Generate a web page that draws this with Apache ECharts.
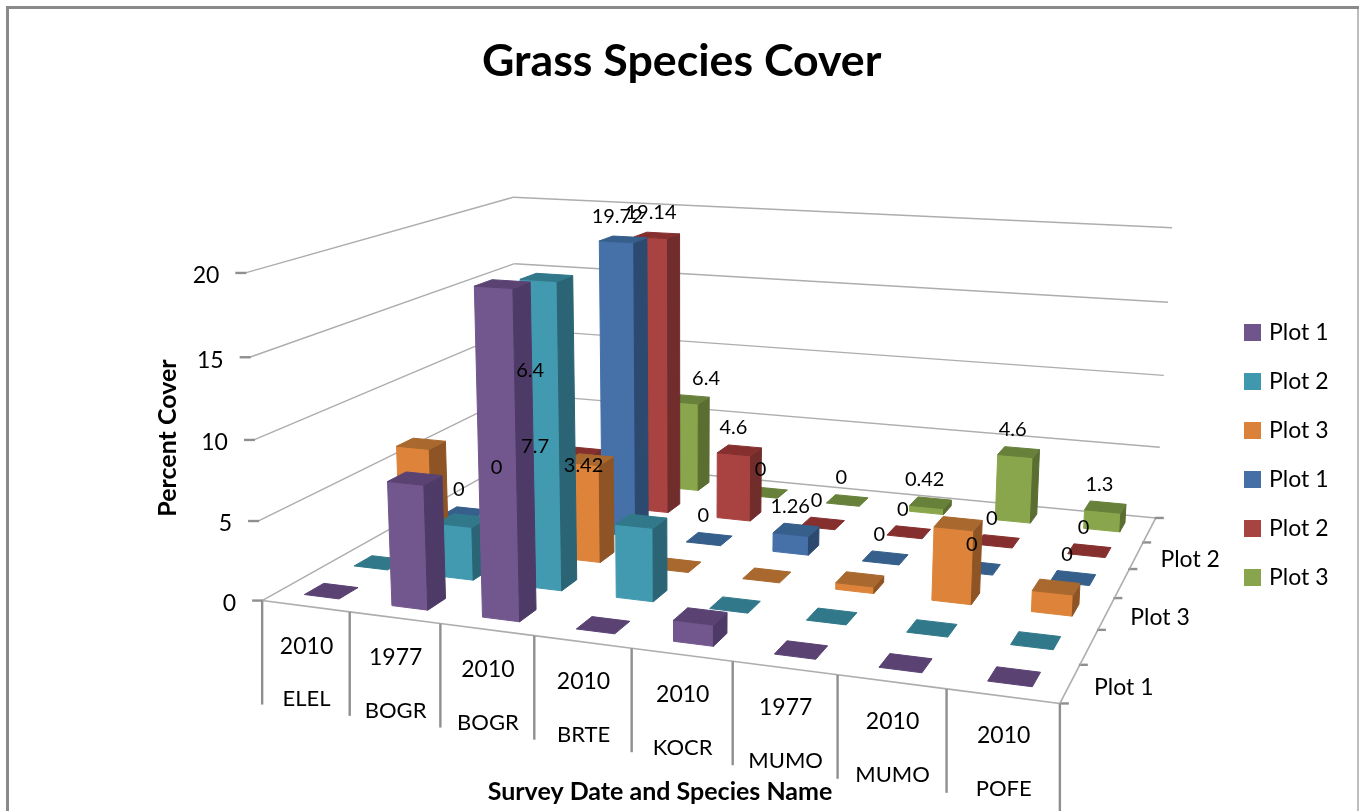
<!DOCTYPE html>
<html><head><meta charset="utf-8">
<style>html,body{margin:0;padding:0;background:#fff;overflow:hidden}#c{width:1359px;height:811px}</style>
<script src="https://cdn.jsdelivr.net/npm/echarts@6/dist/echarts.min.js"></script>
</head><body><div id="c"></div>
<script>
const species = ['ELEL','BOGR','BOGR','BRTE','KOCR','MUMO','MUMO','POFE'];
const years = ['2010','1977','2010','2010','2010','1977','2010','2010'];
const valueTicks = [0,5,10,15,20];
const depthLabels = ['Plot 1','Plot 3','Plot 2'];
const plot1 = [0,7.7,19.72,0,1.26,0,0,0];
const plot2 = [0,3.42,19.14,4.6,0,0,0,0];
const plot3 = [6.4,0,6.4,0,0,0.42,4.6,1.3];
const seriesNames = ['Plot 1','Plot 2','Plot 3','Plot 1 (rear)','Plot 2 (rear)','Plot 3 (rear)'];
const seriesValues = [plot1,plot2,plot3,plot1,plot2,plot3];
const colors = [
 {front:'#72578e',side:'#4d3a66',top:'#5a4373',legend:'#70558c'},
 {front:'#419ab0',side:'#2b6474',top:'#31798a',legend:'#3f98ae'},
 {front:'#dd843a',side:'#8e5425',top:'#a8682e',legend:'#db813a'},
 {front:'#4570a8',side:'#2c4a70',top:'#365f8c',legend:'#4470a6'},
 {front:'#a94341',side:'#702d2c',top:'#85302e',legend:'#a74340'},
 {front:'#8aa64c',side:'#5a6e32',top:'#67803a',legend:'#88a44d'}];

// camera calibration: [across, depth, height (all 0..1), screen x, screen y]
const anchors = [
 [0,0,0,263,600],[1/8,0,0,348,610],[2/8,0,0,440,622],[3/8,0,0,534,635],[4/8,0,0,633,648],[5/8,0,0,732,663],[6/8,0,0,837,677],[7/8,0,0,945,690],[1,0,0,1060,704],
 [1,1/6,0,1080,666],[1,2/6,0,1100,629],[1,3/6,0,1115,596],[1,4/6,0,1129,568],[1,5/6,0,1143,542],[1,1,0,1155,517],
 [0,0,.25,260,521],[0,0,.5,254,439],[0,0,.75,249,358],[0,0,1,245,274],
 [1,1,.25,1160,446],[1,1,.5,1164,375],[1,1,.75,1168,303],[1,1,1,1172,230],
 [0,1,0,518,462],[0,1,.25,517,394],[0,1,.5,516,328],[0,1,.75,515,262],[0,1,1,513,196]];
function solveCamera(){
  const n=11,A=Array.from({length:n},()=>new Array(n+1).fill(0));
  const add=(r,b)=>{for(let i=0;i<n;i++){for(let j=0;j<n;j++)A[i][j]+=r[i]*r[j];A[i][n]+=r[i]*b;}};
  anchors.forEach(([X,Y,Z,px,py])=>{const u=px/1000,v=py/1000;
    add([X,Y,Z,1,0,0,0,0,-u*X,-u*Y,-u*Z],u);
    add([0,0,0,0,X,Y,Z,1,-v*X,-v*Y,-v*Z],v);});
  for(let i=0;i<n;i++){let m=i;for(let k=i+1;k<n;k++)if(Math.abs(A[k][i])>Math.abs(A[m][i]))m=k;
    [A[i],A[m]]=[A[m],A[i]];
    for(let k=0;k<n;k++){if(k===i)continue;const f=A[k][i]/A[i][i];for(let j=i;j<=n;j++)A[k][j]-=f*A[i][j];}}
  return A.map((r,i)=>r[n]/r[i]);
}
const P=solveCamera();
function cam(a,d,h){const w=P[8]*a+P[9]*d+P[10]*h+1;
  return [1000*(P[0]*a+P[1]*d+P[2]*h+P[3])/w,1000*(P[4]*a+P[5]*d+P[6]*h+P[7])/w];}

const BAR_W=0.40,BAR_D=0.38,ROWS=6;
const FONT='Lato, "Open Sans", sans-serif';
const txt=(text,p,size,extra)=>({type:'text',z2:5,style:Object.assign({text,x:p[0],y:p[1],fill:'#000',font:size+'px '+FONT,align:'center',verticalAlign:'middle'},extra||{})});
const seg=(a,b,stroke,lw)=>({type:'line',shape:{x1:a[0],y1:a[1],x2:b[0],y2:b[1]},style:{stroke,lineWidth:lw,fill:null}});
const poly=(pts,fill,stroke)=>({type:'polygon',shape:{points:pts},style:{fill,stroke:stroke||fill,lineWidth:1}});

// read normalized position through the (hidden) axes' own scales
function norm(api,params,cat,val){const c=api.coord([cat,val]),g=params.coordSys;return [(c[0]-g.x)/g.width,(g.y+g.height-c[1])/g.height];}

const GRID_C='#adadad',AXIS_C='#8f8f8f';

function renderGrid(params,api){
  const v=api.value(1),h=norm(api,params,0,v)[1];
  const a=cam(0,0,h),b=cam(0,1,h),c=cam(1,1,h);
  return {type:'group',children:[
    seg(a,b,GRID_C,1.4),seg(b,c,GRID_C,1.4),
    seg([a[0]-10,a[1]],[a[0]+1,a[1]],AXIS_C,2.4),
    txt(String(v),[a[0]-26,a[1]+3],23,{align:'right'})]};
}
function renderCat(params,api){
  const i=api.value(0),st=1/species.length;
  const u=norm(api,params,i,0)[0];
  const l=cam(u-st/2,0,0),r=cam(u+st/2,0,0),m=cam(u,0,0);
  const kids=[seg(l,r,GRID_C,1.6),seg(l,[l[0],l[1]+104],AXIS_C,2.4),
    txt(years[i],[m[0]+1,m[1]+40],23),txt(species[i],[m[0]+1,m[1]+93],22)];
  if(i===species.length-1){kids.push(seg(r,[r[0],r[1]+110],AXIS_C,2.4),seg([r[0],r[1]],[r[0]+9,r[1]],AXIS_C,2.4));}
  return {type:'group',children:kids};
}
function renderDepth(params,api){
  const k=api.value(1),a=cam(1,k/ROWS,0),b=cam(1,(k+1)/ROWS,0);
  const kids=[seg(a,b,GRID_C,1.6),seg([b[0]-1,b[1]],[b[0]+8,b[1]],AXIS_C,2.4)];
  if(k%2===0){const m=cam(1,(k+.5)/ROWS,0);kids.push(txt(depthLabels[k/2],[m[0]+24,m[1]+4],23,{align:'left'}));}
  return {type:'group',children:kids};
}
function makeBar(row){
  return function(params,api){
    const cat=api.value(0),val=api.value(1),col=colors[row];
    const [u,h]=norm(api,params,cat,val);
    const hw=api.size([1,0])[0]/params.coordSys.width*BAR_W/2;
    const d0=(row+.5-BAR_D/2)/ROWS,d1=(row+.5+BAR_D/2)/ROWS,u0=u-hw,u1=u+hw;
    const kids=[];
    if(val>0){
      kids.push(poly([cam(u0,d0,0),cam(u1,d0,0),cam(u1,d0,h),cam(u0,d0,h)],col.front));
      kids.push(poly([cam(u1,d0,0),cam(u1,d1,0),cam(u1,d1,h),cam(u1,d0,h)],col.side));
    }
    kids.push(poly([cam(u0,d0,h),cam(u1,d0,h),cam(u1,d1,h),cam(u0,d1,h)],col.top));
    return {type:'group',children:kids};
  };
}
// labels follow the rear three rows; the source chart dropped one and moved a few
const labelNudge={'3-1':[-1,58],'4-1':[11,37],'5-0':[0,7],'5-2':[24,2]};
const labelHidden={'5-1':true};
function renderLabel(params,api){
  const cat=api.value(0),val=api.value(1),row=api.value(2);
  if(labelHidden[row+'-'+cat])return {type:'group',children:[]};
  const [u,h]=norm(api,params,cat,val),n=labelNudge[row+'-'+cat]||[0,0];
  const p=cam(u,(row+.5)/ROWS,h);
  return txt(String(val),[p[0]-6+n[0],p[1]-23+n[1]],20);
}
const labelData=[];
[3,4,5].forEach(r=>seriesValues[r].forEach((v,c)=>labelData.push([c,v,r])));

const base={type:'custom',silent:true,animation:false,coordinateSystem:'cartesian2d',clip:false,encode:{x:0,y:1},tooltip:{show:false}};
const series=[
 Object.assign({},base,{name:'grid',z:1,renderItem:renderGrid,data:valueTicks.map(v=>[0,v])}),
 Object.assign({},base,{name:'categories',z:2,renderItem:renderCat,data:species.map((s,i)=>[i,0])}),
 Object.assign({},base,{name:'depth',z:2,renderItem:renderDepth,data:seriesNames.map((s,i)=>[0,i])}),
];
seriesNames.forEach((name,r)=>{
  series.push(Object.assign({},base,{name,z:10+(ROWS-r),itemStyle:{color:colors[r].legend},renderItem:makeBar(r),data:seriesValues[r].map((v,c)=>[c,v])}));
});
series.push(Object.assign({},base,{name:'labels',z:40,renderItem:renderLabel,data:labelData}));

const chart=echarts.init(document.getElementById('c'),null,{renderer:'canvas'});
chart.setOption({
  animation:false,backgroundColor:'#fff',
  title:{text:'Grass Species Cover',left:482,top:39,padding:0,textStyle:{fontFamily:FONT,fontWeight:'bold',fontSize:44.7,color:'#000'}},
  grid:{left:100,top:100,width:800,height:400,show:false},
  xAxis:{type:'category',data:species.map((s,i)=>years[i]+' '+s),show:false},
  yAxis:{type:'value',min:0,max:20,interval:5,show:false},
  legend:{data:seriesNames,orient:'vertical',left:1244,top:321,padding:0,icon:'rect',itemWidth:17,itemHeight:17,itemGap:26,selectedMode:false,
    formatter:n=>n.replace(' (rear)',''),textStyle:{fontFamily:FONT,fontSize:23,color:'#000',padding:[0,0,0,3]}},
  graphic:[
   {type:'line',silent:true,shape:{x1:7.5,y1:7.5,x2:7.5,y2:811},style:{stroke:'#8a8a8a',lineWidth:3}},
   {type:'line',silent:true,shape:{x1:6,y1:7.5,x2:1359,y2:7.5},style:{stroke:'#8a8a8a',lineWidth:3}},
   {type:'line',silent:true,shape:{x1:1358,y1:9,x2:1358,y2:811},style:{stroke:'#a8a8a8',lineWidth:1.5}},
   {type:'text',silent:true,x:660,y:792,style:{text:'Survey Date and Species Name',font:'bold 25px '+FONT,fill:'#000',align:'center',verticalAlign:'middle'}},
   {type:'text',silent:true,x:168,y:438,rotation:Math.PI/2,style:{text:'Percent Cover',font:'bold 25px '+FONT,fill:'#000',align:'center',verticalAlign:'middle'}}
  ],
  series
});
</script></body></html>
